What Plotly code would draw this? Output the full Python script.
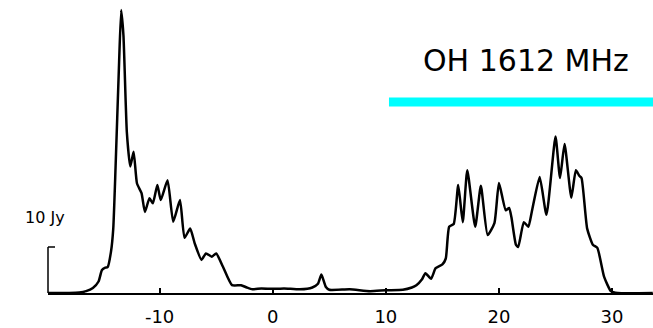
import plotly.graph_objects as go

# Velocity (km/s) and flux density (Jy)
velocity = [-19.9, -18.0, -17.1, -16.5, -15.9, -15.4, -15.1, -14.8, -14.6, -14.3, -14.1, -13.9,
            -13.6, -13.4, -13.2, -12.9, -12.6, -12.3, -12.0, -11.6, -11.3, -10.9, -10.6, -10.2,
            -9.9, -9.3, -8.8, -8.2, -7.8, -7.3, -6.9, -6.3, -5.9, -5.4, -5.0, -4.4, -3.6, -2.8,
            -2.3, -1.8, -1.0, 0.0, 1.0, 2.4, 3.5, 4.0, 4.3, 4.7, 5.0, 6.8, 8.6, 10.0, 11.5, 12.3,
            12.7, 13.2, 13.5, 14.0, 14.4, 15.0, 15.3, 15.6, 16.0, 16.4, 16.8, 17.2, 17.9, 18.4,
            19.0, 19.6, 20.0, 20.6, 20.9, 21.1, 21.5, 21.7, 22.2, 22.6, 22.9, 23.6, 24.2, 25.0,
            25.4, 25.8, 26.4, 26.8, 27.1, 27.3, 27.8, 28.3, 28.7, 29.3, 29.9, 30.5, 33.6]
flux = [0.0, 0.0, 0.1, 0.4, 1.1, 2.5, 5.0, 5.5, 5.6, 9.0, 14.0, 27.0,
        49.0, 61.5, 56.0, 35.0, 27.5, 30.7, 23.8, 21.7, 17.6, 20.6, 19.5, 23.5,
        20.2, 24.5, 15.5, 20.2, 12.0, 14.0, 10.8, 7.2, 8.6, 7.9, 8.6, 5.7, 1.7, 1.7,
        1.2, 0.8, 1.0, 0.9, 1.0, 0.8, 1.2, 2.0, 4.0, 1.3, 0.7, 0.8, 0.4, 0.6, 0.7, 1.2,
        1.7, 3.0, 4.3, 3.1, 5.4, 6.2, 7.5, 14.4, 15.0, 23.5, 15.4, 26.7, 14.4, 23.3,
        12.6, 15.2, 23.9, 18.0, 18.5, 16.5, 10.5, 10.0, 15.4, 14.4, 17.6, 25.2, 17.0, 34.0,
        25.0, 32.4, 20.7, 26.7, 25.5, 25.0, 14.0, 10.5, 9.8, 3.5, 0.4, 0.0, 0.0]

tick_vals = [-10, 0, 10, 20, 30]
tick_text = ["-10", "0", "10", "20", "30"]
title_text = "OH 1612 MHz"
scale_label = "10 Jy"
scale_value = 10

fig = go.Figure()
fig.add_trace(go.Scatter(x=velocity, y=flux, mode="lines",
                         line=dict(color="black", width=2.5, shape="spline", smoothing=0.5),
                         hoverinfo="skip", showlegend=False))

fig.update_layout(
    width=653, height=328,
    margin=dict(l=48, r=0, t=0, b=35),
    paper_bgcolor="white", plot_bgcolor="white",
    xaxis=dict(range=[-19.87, 33.62], showgrid=False, zeroline=False,
               showline=True, linecolor="black", linewidth=1.5,
               ticks="inside", ticklen=5, tickwidth=1.5, tickcolor="black",
               tickvals=tick_vals, ticktext=tick_text, ticklabelstandoff=7,
               tickfont=dict(family="DejaVu Sans", size=18, color="black")),
    yaxis=dict(range=[0, 63.7], visible=False),
    shapes=[
        dict(type="line", xref="paper", yref="y", x0=0, x1=0, y0=0, y1=scale_value,
             line=dict(color="black", width=1.5)),
        dict(type="line", xref="paper", yref="y", x0=0, x1=0.0116, y0=scale_value, y1=scale_value,
             line=dict(color="black", width=1.5)),
        dict(type="rect", xref="paper", yref="paper", x0=0.5636, x1=1.0, y0=0.6365, y1=0.667,
             fillcolor="#00FFFF", line=dict(width=0)),
    ],
    annotations=[
        dict(text=title_text, xref="paper", yref="paper", x=0.790, y=0.792,
             showarrow=False, xanchor="center", yanchor="middle",
             font=dict(family="DejaVu Sans", size=30, color="black")),
        dict(text=scale_label, xref="paper", yref="paper", x=-0.005, y=0.259,
             showarrow=False, xanchor="center", yanchor="middle",
             font=dict(family="DejaVu Sans", size=16, color="black")),
    ],
)

fig.write_html("out.html")
